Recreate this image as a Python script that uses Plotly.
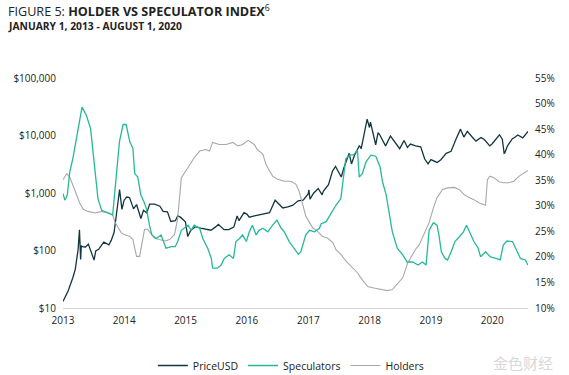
import pandas as pd
import plotly.graph_objects as go

# ---------------- data ----------------
price_dates = [
    "2013-01-01", "2013-02-01", "2013-03-01", "2013-03-15", "2013-04-01", "2013-04-09",
    "2013-04-16", "2013-04-20", "2013-05-01", "2013-05-15", "2013-06-01", "2013-06-15",
    "2013-07-05", "2013-07-15", "2013-08-01", "2013-09-01", "2013-10-01", "2013-10-15",
    "2013-11-01", "2013-11-15", "2013-11-30", "2013-12-04", "2013-12-18", "2013-12-31",
    "2014-01-15", "2014-02-01", "2014-02-25", "2014-03-15", "2014-04-10", "2014-04-25",
    "2014-05-15", "2014-06-01", "2014-07-01", "2014-08-01", "2014-08-20", "2014-09-15",
    "2014-10-05", "2014-11-01", "2014-11-15", "2014-12-01", "2014-12-31", "2015-01-14",
    "2015-02-01", "2015-03-01", "2015-04-01", "2015-05-01", "2015-06-01", "2015-07-01",
    "2015-07-15", "2015-08-18", "2015-09-15", "2015-10-15", "2015-11-04", "2015-11-15",
    "2015-12-15", "2016-01-01", "2016-01-15", "2016-02-15", "2016-03-15", "2016-04-15",
    "2016-05-15", "2016-06-17", "2016-07-01", "2016-08-02", "2016-09-01", "2016-10-01",
    "2016-11-01", "2016-12-01", "2016-12-31", "2017-01-04", "2017-01-11", "2017-02-01",
    "2017-03-01", "2017-03-24", "2017-04-01", "2017-05-01", "2017-05-25", "2017-06-12",
    "2017-07-16", "2017-08-01", "2017-09-01", "2017-09-15", "2017-10-01", "2017-11-01",
    "2017-11-12", "2017-12-01", "2017-12-17", "2017-12-31", "2018-01-06", "2018-02-06",
    "2018-02-20", "2018-03-01", "2018-04-06", "2018-05-05", "2018-06-01", "2018-06-29",
    "2018-07-25", "2018-08-14", "2018-09-01", "2018-10-01", "2018-11-01", "2018-11-25",
    "2018-12-15", "2019-01-01", "2019-02-07", "2019-03-01", "2019-04-02", "2019-05-01",
    "2019-05-30", "2019-06-26", "2019-07-16", "2019-08-06", "2019-09-01", "2019-09-26",
    "2019-10-26", "2019-11-15", "2019-12-17", "2020-01-01", "2020-02-13", "2020-03-01",
    "2020-03-12", "2020-03-16", "2020-04-01", "2020-04-30", "2020-05-15", "2020-06-01",
    "2020-07-01", "2020-07-27", "2020-08-01",
]
price_usd = [
    13, 20, 34, 47, 104, 230,
    70, 120, 116, 115, 129, 100,
    68, 98, 105, 140, 125, 150,
    205, 420, 1100, 1150, 520, 750,
    850, 830, 530, 630, 360, 500,
    450, 640, 640, 590, 480, 470,
    320, 330, 400, 380, 315, 175,
    225, 260, 245, 235, 225, 260,
    285, 230, 230, 255, 400, 330,
    455, 430, 380, 400, 415, 430,
    455, 750, 675, 550, 575, 615,
    730, 750, 965, 1130, 780, 990,
    1200, 930, 1080, 1400, 2400, 2900,
    1900, 2750, 4900, 3200, 4400, 6700,
    5900, 10900, 19300, 13800, 17100, 6900,
    11200, 10400, 6600, 9800, 7500, 5900,
    8200, 6200, 7100, 6600, 6350, 3900,
    3200, 3800, 3400, 3800, 4900, 5300,
    8600, 12900, 9400, 11800, 9600, 8000,
    9200, 8500, 6600, 7200, 10300, 8600,
    4900, 5000, 6600, 8800, 9300, 10200,
    9100, 11000, 11800,
]

spec_years = [
    2013.00, 2013.03, 2013.07, 2013.11, 2013.16, 2013.23, 2013.31, 2013.38, 2013.45, 2013.49,
    2013.53, 2013.57, 2013.63, 2013.71, 2013.76, 2013.81, 2013.84, 2013.89, 2013.92, 2013.98,
    2014.03, 2014.09, 2014.14, 2014.17, 2014.22, 2014.27, 2014.32, 2014.36, 2014.41, 2014.45,
    2014.52, 2014.60, 2014.68, 2014.77, 2014.83, 2014.87, 2014.93, 2015.04, 2015.09, 2015.14,
    2015.23, 2015.28, 2015.36, 2015.42, 2015.44, 2015.52, 2015.58, 2015.63, 2015.71, 2015.78,
    2015.82, 2015.88, 2015.93, 2015.99, 2016.04, 2016.09, 2016.15, 2016.20, 2016.26, 2016.34,
    2016.42, 2016.49, 2016.56, 2016.61, 2016.69, 2016.77, 2016.84, 2016.88, 2016.96, 2017.02,
    2017.10, 2017.18, 2017.21, 2017.29, 2017.37, 2017.45, 2017.53, 2017.57, 2017.61, 2017.67,
    2017.74, 2017.80, 2017.83, 2017.88, 2017.94, 2018.02, 2018.10, 2018.17, 2018.21, 2018.27,
    2018.32, 2018.37, 2018.45, 2018.54, 2018.61, 2018.70, 2018.79, 2018.86, 2018.92, 2018.96,
    2018.97, 2019.04, 2019.10, 2019.13, 2019.17, 2019.23, 2019.27, 2019.33, 2019.39, 2019.46,
    2019.53, 2019.58, 2019.62, 2019.70, 2019.77, 2019.81, 2019.89, 2019.97, 2020.06, 2020.13,
    2020.18, 2020.24, 2020.33, 2020.40, 2020.46, 2020.54, 2020.58,
]
speculators = [
    32.4, 31.1, 32.1, 36.6, 39.2, 43.8, 49.3, 47.7, 45.1, 40.5,
    36.0, 31.4, 29.1, 28.8, 28.5, 28.2, 32.7, 38.6, 42.5, 45.9,
    45.9, 42.5, 41.2, 36.3, 35.6, 32.1, 30.8, 29.5, 26.2, 24.3,
    23.6, 24.3, 21.7, 22.0, 22.0, 23.0, 25.2, 26.2, 25.2, 26.2,
    25.6, 23.6, 21.7, 19.7, 17.8, 17.8, 18.4, 19.7, 20.4, 19.7,
    23.0, 23.6, 24.3, 23.0, 24.9, 26.2, 24.3, 25.2, 25.6, 24.9,
    26.2, 27.2, 25.6, 24.9, 23.0, 21.7, 20.5, 21.0, 24.3, 25.2,
    24.9, 25.6, 26.5, 26.9, 28.5, 30.1, 31.4, 35.3, 39.2, 39.9,
    40.0, 40.9, 35.6, 36.3, 38.6, 39.9, 39.7, 37.6, 34.7, 32.1,
    28.8, 24.9, 21.7, 20.4, 19.0, 19.0, 18.4, 19.0, 18.4, 24.9,
    25.2, 26.7, 26.2, 24.3, 21.0, 19.7, 19.4, 21.0, 23.0, 23.9,
    24.9, 26.2, 25.2, 23.0, 21.7, 20.0, 21.0, 20.0, 19.7, 19.4,
    22.3, 23.1, 23.0, 21.3, 19.7, 19.4, 18.4,
]

hold_years = [
    2013.00, 2013.06, 2013.11, 2013.16, 2013.22, 2013.27, 2013.33, 2013.41, 2013.52, 2013.63,
    2013.73, 2013.81, 2013.85, 2013.90, 2013.95, 2014.00, 2014.09, 2014.14, 2014.17, 2014.20,
    2014.25, 2014.29, 2014.33, 2014.38, 2014.44, 2014.49, 2014.57, 2014.66, 2014.74, 2014.82,
    2014.87, 2014.90, 2014.93, 2015.04, 2015.14, 2015.23, 2015.33, 2015.39, 2015.44, 2015.55,
    2015.66, 2015.77, 2015.85, 2015.93, 2016.02, 2016.12, 2016.17, 2016.26, 2016.31, 2016.37,
    2016.42, 2016.50, 2016.61, 2016.72, 2016.80, 2016.85, 2016.91, 2016.96, 2017.02, 2017.07,
    2017.15, 2017.23, 2017.31, 2017.40, 2017.45, 2017.53, 2017.61, 2017.70, 2017.80, 2017.88,
    2017.97, 2018.07, 2018.18, 2018.29, 2018.37, 2018.45, 2018.54, 2018.62, 2018.70, 2018.75,
    2018.81, 2018.89, 2018.97, 2019.04, 2019.10, 2019.19, 2019.27, 2019.38, 2019.46, 2019.54,
    2019.62, 2019.70, 2019.78, 2019.89, 2019.92, 2019.96, 2020.03, 2020.11, 2020.19, 2020.27,
    2020.35, 2020.44, 2020.52, 2020.58,
]
holders = [
    35.1, 36.3, 35.6, 34.2, 32.2, 30.6, 29.3, 28.9, 28.6, 28.9,
    28.6, 28.2, 26.7, 25.7, 24.7, 24.4, 24.0, 23.4, 21.8, 20.1,
    20.1, 23.1, 25.4, 25.4, 24.4, 23.7, 23.4, 23.1, 23.4, 24.4,
    27.5, 31.2, 35.5, 37.5, 39.4, 40.7, 41.0, 40.7, 42.4, 42.0,
    42.0, 42.4, 41.7, 42.0, 42.8, 42.0, 41.0, 40.1, 38.1, 36.8,
    35.8, 35.2, 34.8, 34.8, 34.2, 32.9, 30.3, 28.0, 26.7, 25.7,
    25.0, 24.0, 23.7, 22.8, 21.4, 20.5, 19.2, 18.2, 16.9, 15.5,
    14.2, 13.9, 13.6, 13.4, 13.6, 14.6, 15.9, 18.8, 20.5, 21.5,
    22.4, 24.4, 26.7, 29.6, 31.6, 33.2, 33.5, 33.6, 33.2, 32.2,
    31.6, 31.2, 30.6, 30.1, 35.1, 35.8, 35.5, 34.7, 34.5, 34.5,
    34.8, 35.8, 36.5, 36.9,
]

price_ticks = [10, 100, 1000, 10000, 100000]
price_tick_labels = ["$10", "$100", "$1,000", "$10,000", "$100,000"]
year_ticks = ["2013", "2014", "2015", "2016", "2017", "2018", "2019", "2020"]


def to_dates(years):
    out = []
    for y in years:
        base = int(y)
        out.append(pd.Timestamp(base, 1, 1) + pd.Timedelta(days=(y - base) * 365.25))
    return out


C_PRICE = "#133540"
C_SPEC = "#27b899"
C_HOLD = "#a8a8a8"
FONT = "Open Sans"
TXT = "#222222"

fig = go.Figure()
fig.add_trace(go.Scatter(x=to_dates(hold_years), y=holders, name="Holders", yaxis="y2",
                         mode="lines", line=dict(color=C_HOLD, width=1.1), legendrank=3))
fig.add_trace(go.Scatter(x=to_dates(spec_years), y=speculators, name="Speculators", yaxis="y2",
                         mode="lines", line=dict(color=C_SPEC, width=1.3), legendrank=2))
fig.add_trace(go.Scatter(x=pd.to_datetime(price_dates), y=price_usd, name="PriceUSD",
                         mode="lines", line=dict(color=C_PRICE, width=1.3), legendrank=1))

fig.update_layout(
    width=569, height=375,
    margin=dict(l=63, r=41, t=78, b=67, autoexpand=False),
    paper_bgcolor="white", plot_bgcolor="white",
    font=dict(family=FONT, size=10, color=TXT),
    showlegend=True,
    legend=dict(orientation="h", x=0.49, xanchor="center", y=-0.25, yanchor="middle",
                font=dict(size=10.5, color=TXT), itemwidth=30, bgcolor="rgba(0,0,0,0)"),
    xaxis=dict(type="date", range=["2013-01-01", "2020-08-01"],
               tickvals=[pd.Timestamp(int(t), 1, 1) for t in year_ticks], ticktext=year_ticks,
               showgrid=False, zeroline=False, showline=True, linecolor="#d4d4d4", linewidth=1,
               ticks="", tickfont=dict(size=10, color=TXT), ticklabelstandoff=3),
    yaxis=dict(type="log", range=[1, 5], tickvals=price_ticks, ticktext=price_tick_labels,
               showgrid=False, zeroline=False, showline=False, ticks="",
               tickfont=dict(size=10, color=TXT), ticklabelstandoff=6),
    yaxis2=dict(overlaying="y", side="right", range=[10, 55], dtick=5, ticksuffix="%",
                showgrid=False, zeroline=False, showline=False, ticks="",
                tickfont=dict(size=10, color=TXT), ticklabelstandoff=6),
    annotations=[
        dict(xref="paper", yref="paper", x=-0.1226, y=1.293, xanchor="left", yanchor="middle",
             text="FIGURE 5: <b>HOLDER VS SPECULATOR INDEX</b><sup>6</sup>", showarrow=False,
             font=dict(size=12.6, color=TXT, family=FONT)),
        dict(xref="paper", yref="paper", x=-0.1226, y=1.225, xanchor="left", yanchor="middle",
             text="<b>JANUARY 1, 2013 - AUGUST 1, 2020</b>", showarrow=False,
             font=dict(size=10.3, color=TXT, family=FONT)),
        dict(xref="paper", yref="paper", x=0.99, y=-0.235, xanchor="center", yanchor="middle",
             text="金色财经", showarrow=False,
             font=dict(size=15, color="#d8d8d8", family="Noto Sans CJK SC")),
    ],
)

fig.write_html("out.html", config={"displayModeBar": False},
               post_script="document.body.style.margin='0';document.body.style.overflow='hidden';")
